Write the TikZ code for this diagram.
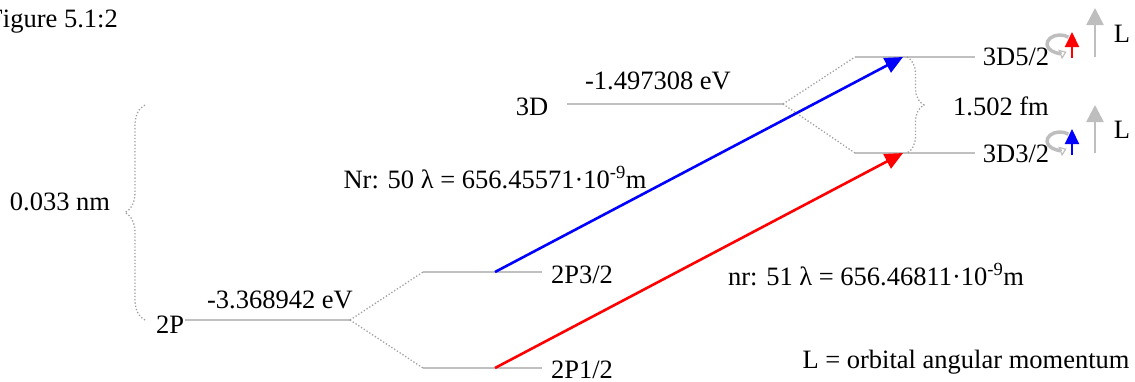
\documentclass[tikz,border=0pt]{standalone}
\usepackage{fontspec}
\setmainfont{Liberation Serif}
\usetikzlibrary{arrows.meta,decorations.pathreplacing}
\definecolor{lvl}{RGB}{192,192,192}
\definecolor{dotc}{RGB}{160,160,160}
\definecolor{spinc}{RGB}{190,190,190}
\tikzset{
  txt/.style={inner sep=0pt, font=\fontsize{26.5}{30}\selectfont, anchor=base},
  level/.style={draw=lvl, line width=2pt},
  split/.style={draw=dotc, dotted, line width=1.3pt},
  bracec/.style={draw=dotc, dotted, line width=1.3pt, decorate, decoration={brace, amplitude=#1}},
  trans/.style={line width=2.6pt, -{Triangle[length=18pt,width=16pt]}},
  larrow/.style={draw=spinc, line width=2.6pt, -{Triangle[length=17pt,width=17pt]}},
  spinarc/.style={draw=spinc, line width=3.5pt, -{Triangle[open,length=7pt,width=10pt,line width=1.2pt]}},
  spinarrow/.style={line width=2pt, -{Triangle[length=15pt,width=14pt]}}
}
\begin{document}
\begin{tikzpicture}[x=1pt,y=-1pt]
\useasboundingbox (0,0) rectangle (1135,381);

% title
\node[txt, anchor=base east] (title) at (118,27) {Figure 5.1:2};

% level coordinates
\coordinate (p0a) at (185,320); \coordinate (p0b) at (350,320);
\coordinate (p3a) at (423,272); \coordinate (p3b) at (542,272);
\coordinate (p1a) at (423,368); \coordinate (p1b) at (542,368);
\coordinate (d0a) at (567,104); \coordinate (d0b) at (783,104);
\coordinate (d5a) at (855,57);  \coordinate (d5b) at (975,57);
\coordinate (d3a) at (855,153); \coordinate (d3b) at (975,153);

% levels
\draw[level] (p0a) -- (p0b);
\draw[level] (p3a) -- (p3b);
\draw[level] (p1a) -- (p1b);
\draw[level] (d0a) -- (d0b);
\draw[level] (d5a) -- (d5b);
\draw[level] (d3a) -- (d3b);

% splittings
\draw[split] (p0b) -- (p3a);
\draw[split] (p0b) -- (p1a);
\draw[split] (d0b) -- (d5a);
\draw[split] (d0b) -- (d3a);

% braces
\coordinate (lb1) at (145,320); \coordinate (lb2) at (145,105);
\draw[bracec=20pt] (lb1) -- (lb2);
\coordinate (rb1) at (907,57); \coordinate (rb2) at (907,153);
\draw[bracec=17pt] (rb1) -- (rb2);

% labels
\node[txt] (l2p) at (170,333) {2P};
\node[txt] (e2p) at (280,308) {-3.368942 eV};
\node[txt] (l2p3) at (582,283) {2P3/2};
\node[txt] (l2p1) at (582,378) {2P1/2};
\node[txt] (l3d) at (532,115) {3D};
\node[txt] (e3d) at (658,89) {-1.497308 eV};
\node[txt] (l3d5) at (1016,65) {3D5/2};
\node[txt] (l3d3) at (1016,162) {3D3/2};
\node[txt] (fm) at (1001,115) {1.502 fm};
\node[txt] (nm) at (60,210) {0.033 nm};
\node[txt] (nr50) at (495,188) {Nr: 50 λ = 656.45571·10\textsuperscript{-9}m};
\node[txt] (nr51) at (876,285) {nr: 51 λ = 656.46811·10\textsuperscript{-9}m};
\node[txt] (leg) at (966,368) {L = orbital angular momentum};

% transitions
\coordinate (b0) at (495,272); \coordinate (b1) at (903,57);
\coordinate (r0) at (495,368); \coordinate (r1) at (903,153);
\draw[trans, blue] (b0) -- (b1);
\draw[trans, red] (r0) -- (r1);

% L arrows
\coordinate (la0) at (1095,57); \coordinate (la1) at (1095,8);
\coordinate (lc0) at (1095,153); \coordinate (lc1) at (1095,105);
\draw[larrow] (la0) -- (la1);
\draw[larrow] (lc0) -- (lc1);
\node[txt] (L1) at (1122,42) {L};
\node[txt] (L2) at (1122,138) {L};

% spin icons
\coordinate (s1s) at (1068.4,37.1);
\draw[spinarc] (s1s) arc[start angle=50, end angle=300, x radius=13pt, y radius=9pt];
\coordinate (sa0) at (1072,58); \coordinate (sa1) at (1072,32);
\draw[spinarrow, red] (sa0) -- (sa1);

\coordinate (s2s) at (1068.4,134.1);
\draw[spinarc] (s2s) arc[start angle=50, end angle=300, x radius=13pt, y radius=9pt];
\coordinate (sb0) at (1072,155); \coordinate (sb1) at (1072,129);
\draw[spinarrow, blue] (sb0) -- (sb1);
\end{tikzpicture}
\end{document}
